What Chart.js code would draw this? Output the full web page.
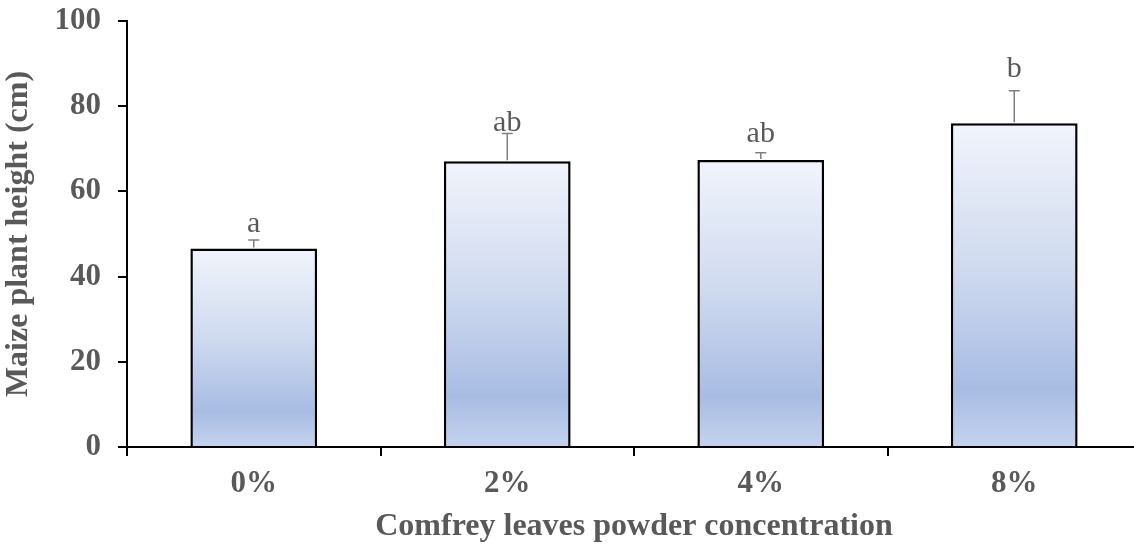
<!DOCTYPE html>
<html>
<head>
<meta charset="utf-8">
<script src="https://cdn.jsdelivr.net/npm/chart.js@4"></script>
<style>
  html, body { margin: 0; padding: 0; overflow: hidden; background: #fff; }
  #wrap { width: 1134px; height: 546px; overflow: hidden; }
</style>
</head>
<body>
<div id="wrap"><canvas id="c" width="1146" height="546"></canvas></div>
<script>
const categories = ['0%', '2%', '4%', '8%'];
const heights = [46.6, 67.1, 67.4, 76.0];
const errorUp = [2.0, 6.5, 1.7, 7.6];
const letters = ['a', 'ab', 'ab', 'b'];
const letterAt = [50.5, 74.2, 71.6, 86.9];
const yTicks = [0, 20, 40, 60, 80, 100];

const GREY = '#595959';
const SERIF = '"Liberation Serif", "Times New Roman", serif';

const extras = {
  id: 'extras',
  afterDatasetsDraw(chart) {
    const ctx = chart.ctx;
    const x = chart.scales.x, y = chart.scales.y;
    ctx.save();
    heights.forEach((v, i) => {
      const cx = x.getPixelForValue(i);
      const yb = y.getPixelForValue(v);
      const yt = y.getPixelForValue(v + errorUp[i]);
      ctx.strokeStyle = '#7f7f7f';
      ctx.lineWidth = 1.5;
      ctx.beginPath();
      ctx.moveTo(cx, yb - 1);
      ctx.lineTo(cx, yt);
      ctx.moveTo(cx - 5.5, yt);
      ctx.lineTo(cx + 5.5, yt);
      ctx.stroke();
      ctx.fillStyle = GREY;
      ctx.font = '30px ' + SERIF;
      ctx.textAlign = 'center';
      ctx.textBaseline = 'alphabetic';
      ctx.fillText(letters[i], cx, y.getPixelForValue(letterAt[i]));
    });
    ctx.restore();
  }
};

new Chart(document.getElementById('c'), {
  type: 'bar',
  data: {
    labels: categories,
    datasets: [{
      data: heights,
      backgroundColor(context) {
        const ca = context.chart.chartArea;
        if (!ca) return '#c3d1ec';
        const yS = context.chart.scales.y;
        const v = context.raw;
        const top = yS.getPixelForValue(v), bot = yS.getPixelForValue(0);
        const g = context.chart.ctx.createLinearGradient(0, top, 0, bot);
        g.addColorStop(0, '#f1f4fb');
        g.addColorStop(0.45, '#cfdaef');
        g.addColorStop(0.82, '#a8bce3');
        g.addColorStop(1, '#c4d2ed');
        return g;
      },
      borderColor: '#000',
      borderWidth: 2.5,
      borderSkipped: 'bottom',
      barPercentage: 0.5,
      categoryPercentage: 1.0
    }]
  },
  options: {
    responsive: false,
    animation: false,
    layout: { padding: { top: 21, right: 5, left: 0, bottom: 0 } },
    plugins: { legend: { display: false }, tooltip: { enabled: false } },
    scales: {
      x: {
        grid: { display: true, drawOnChartArea: false, offset: true, tickLength: 9, color: '#000', lineWidth: 2 },
        border: { display: true, color: '#000', width: 2 },
        ticks: { color: GREY, font: { family: SERIF, size: 31, weight: 'bold' }, padding: 9 },
        title: { display: true, text: 'Comfrey leaves powder concentration', color: GREY, font: { family: SERIF, size: 32, weight: 'bold' }, padding: { top: 5, bottom: 0 } },
        afterFit(s) { s.height = 99; s.paddingLeft = 0; s.paddingRight = 0; }
      },
      y: {
        min: 0, max: 100,
        afterBuildTicks(s) { s.ticks = yTicks.map(v => ({ value: v })); },
        grid: { display: true, drawOnChartArea: false, tickLength: 9, color: '#000', lineWidth: 2 },
        border: { display: true, color: '#000', width: 2 },
        ticks: { color: GREY, font: { family: SERIF, size: 31, weight: 'bold' }, padding: 17 },
        title: { display: true, text: 'Maize plant height (cm)', color: GREY, font: { family: SERIF, size: 32, weight: 'bold' }, padding: { top: 0, bottom: 2 } },
        afterFit(s) { s.width = 127; s.paddingTop = 0; s.paddingBottom = 0; }
      }
    }
  },
  plugins: [extras]
});
</script>
</body>
</html>
